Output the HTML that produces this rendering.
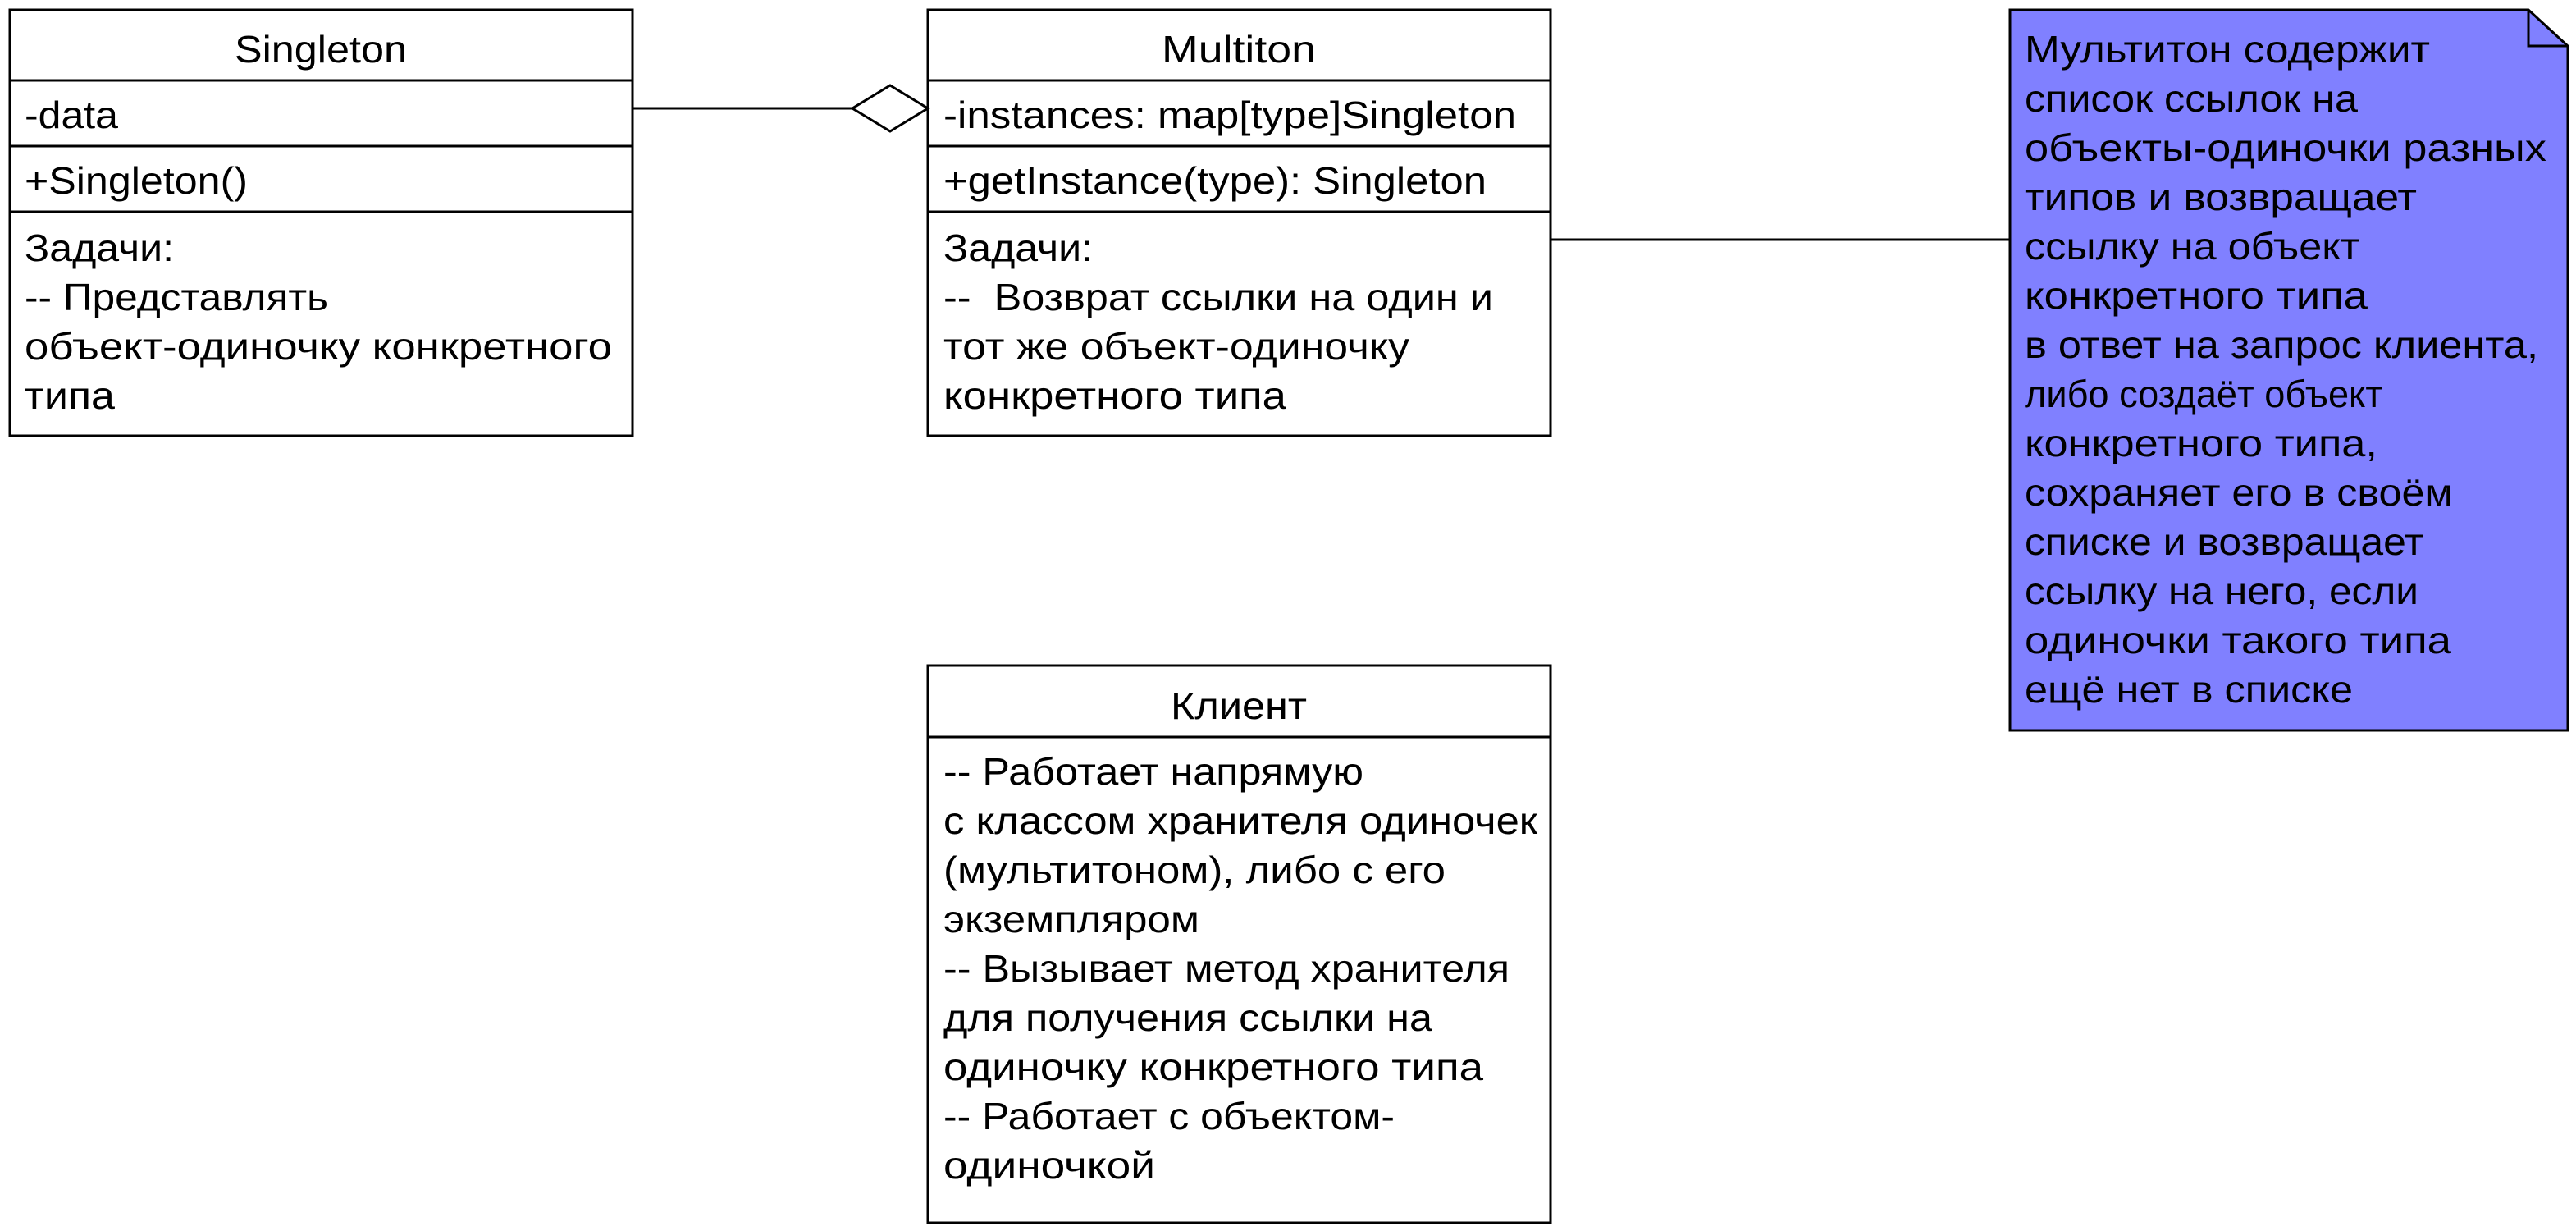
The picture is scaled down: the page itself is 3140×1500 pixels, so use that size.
<!DOCTYPE html>
<html><head><meta charset="utf-8"><style>
html,body{margin:0;padding:0;background:#fff;}
svg{display:block;}
text{font-family:"Liberation Sans","Noto Sans CJK SC",sans-serif;font-size:46px;fill:#000;}
</style></head><body>
<svg width="3140" height="1500" xmlns="http://www.w3.org/2000/svg">
<g fill="none" stroke="#000" stroke-width="3">
<rect x="12" y="12" width="759" height="519" fill="#fff"/>
<line x1="12" y1="98" x2="771" y2="98"/>
<line x1="12" y1="178" x2="771" y2="178"/>
<line x1="12" y1="258" x2="771" y2="258"/>
<rect x="1131" y="12" width="759" height="519" fill="#fff"/>
<line x1="1131" y1="98" x2="1890" y2="98"/>
<line x1="1131" y1="178" x2="1890" y2="178"/>
<line x1="1131" y1="258" x2="1890" y2="258"/>
<rect x="1131" y="811" width="759" height="679" fill="#fff"/>
<line x1="1131" y1="898" x2="1890" y2="898"/>
<line x1="771" y1="132" x2="1039" y2="132"/>
<polygon points="1039,132 1085,104 1131,132 1085,160" fill="#fff"/>
<line x1="1890" y1="292" x2="2450" y2="292"/>
<path d="M2450,12 H3082 L3130,56 V890 H2450 Z" fill="#8080ff"/>
<path d="M3082,12 V56 H3130"/>
</g>
<g>
<text x="286" y="76" textLength="210" lengthAdjust="spacingAndGlyphs">Singleton</text>
<text x="30" y="156" textLength="114" lengthAdjust="spacingAndGlyphs">-data</text>
<text x="30" y="236" textLength="272" lengthAdjust="spacingAndGlyphs">+Singleton()</text>
<text x="30" y="318" textLength="182" lengthAdjust="spacingAndGlyphs">Задачи:</text>
<text x="30" y="378" textLength="370" lengthAdjust="spacingAndGlyphs">-- Представлять</text>
<text x="30" y="438" textLength="716" lengthAdjust="spacingAndGlyphs">объект-одиночку конкретного</text>
<text x="30" y="498" textLength="110" lengthAdjust="spacingAndGlyphs">типа</text>
<text x="1416" y="76" textLength="188" lengthAdjust="spacingAndGlyphs">Multiton</text>
<text x="1150" y="156" textLength="698" lengthAdjust="spacingAndGlyphs">-instances: map[type]Singleton</text>
<text x="1150" y="236" textLength="662" lengthAdjust="spacingAndGlyphs">+getInstance(type): Singleton</text>
<text x="1150" y="318" textLength="182" lengthAdjust="spacingAndGlyphs">Задачи:</text>
<text x="1150" y="378" textLength="670" lengthAdjust="spacingAndGlyphs" xml:space="preserve">--  Возврат ссылки на один и</text>
<text x="1150" y="438" textLength="568" lengthAdjust="spacingAndGlyphs">тот же объект-одиночку</text>
<text x="1150" y="498" textLength="418" lengthAdjust="spacingAndGlyphs">конкретного типа</text>
<text x="1427" y="876" textLength="166" lengthAdjust="spacingAndGlyphs">Клиент</text>
<text x="1150" y="956" textLength="512" lengthAdjust="spacingAndGlyphs">-- Работает напрямую</text>
<text x="1150" y="1016" textLength="724" lengthAdjust="spacingAndGlyphs">с классом хранителя одиночек</text>
<text x="1150" y="1076" textLength="612" lengthAdjust="spacingAndGlyphs">(мультитоном), либо с его</text>
<text x="1150" y="1136" textLength="312" lengthAdjust="spacingAndGlyphs">экземпляром</text>
<text x="1150" y="1196" textLength="690" lengthAdjust="spacingAndGlyphs">-- Вызывает метод хранителя</text>
<text x="1150" y="1256" textLength="596" lengthAdjust="spacingAndGlyphs">для получения ссылки на</text>
<text x="1150" y="1316" textLength="658" lengthAdjust="spacingAndGlyphs">одиночку конкретного типа</text>
<text x="1150" y="1376" textLength="550" lengthAdjust="spacingAndGlyphs">-- Работает с объектом-</text>
<text x="1150" y="1436" textLength="258" lengthAdjust="spacingAndGlyphs">одиночкой</text>
<text x="2468" y="76" textLength="494" lengthAdjust="spacingAndGlyphs">Мультитон содержит</text>
<text x="2468" y="136" textLength="406" lengthAdjust="spacingAndGlyphs">список ссылок на</text>
<text x="2468" y="196" textLength="636" lengthAdjust="spacingAndGlyphs">объекты-одиночки разных</text>
<text x="2468" y="256" textLength="478" lengthAdjust="spacingAndGlyphs">типов и возвращает</text>
<text x="2468" y="316" textLength="408" lengthAdjust="spacingAndGlyphs">ссылку на объект</text>
<text x="2468" y="376" textLength="418" lengthAdjust="spacingAndGlyphs">конкретного типа</text>
<text x="2468" y="436" textLength="626" lengthAdjust="spacingAndGlyphs">в ответ на запрос клиента,</text>
<text x="2468" y="496" textLength="436" lengthAdjust="spacingAndGlyphs">либо созда&#1105;т объект</text>
<text x="2468" y="556" textLength="430" lengthAdjust="spacingAndGlyphs">конкретного типа,</text>
<text x="2468" y="616" textLength="522" lengthAdjust="spacingAndGlyphs">сохраняет его в своём</text>
<text x="2468" y="676" textLength="486" lengthAdjust="spacingAndGlyphs">списке и возвращает</text>
<text x="2468" y="736" textLength="480" lengthAdjust="spacingAndGlyphs">ссылку на него, если</text>
<text x="2468" y="796" textLength="520" lengthAdjust="spacingAndGlyphs">одиночки такого типа</text>
<text x="2468" y="856" textLength="400" lengthAdjust="spacingAndGlyphs">ещё нет в списке</text>
</g>
</svg>
</body></html>
